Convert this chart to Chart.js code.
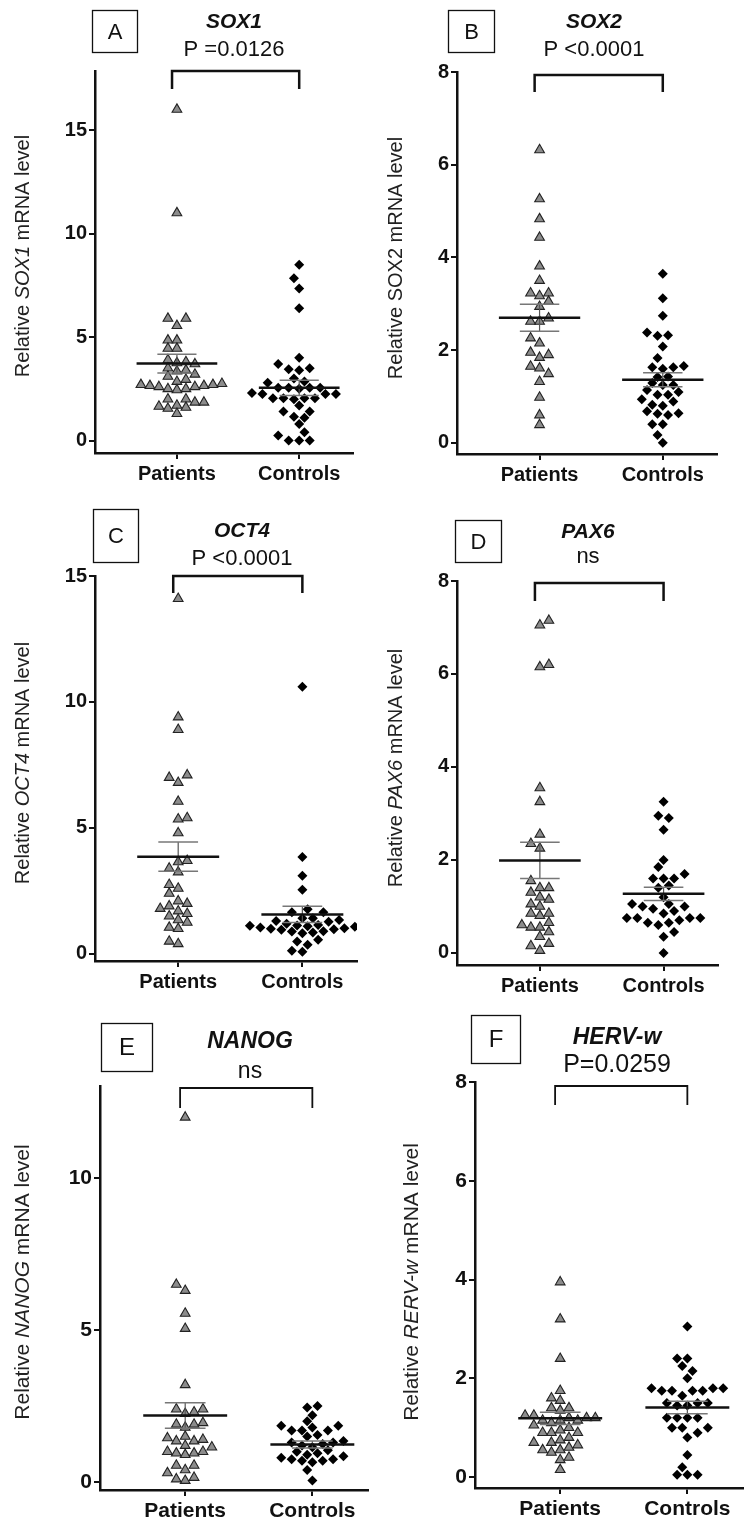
<!DOCTYPE html>
<html>
<head>
<meta charset="utf-8">
<script src="https://cdn.jsdelivr.net/npm/chart.js@4.4.1/dist/chart.umd.min.js"></script>
<style>
  body { margin: 0; background: #fff; }
  #page { position: relative; width: 750px; height: 1521px; }
  #page canvas { position: absolute; }
</style>
</head>
<body>
<div id="page">
  <canvas id="panelA" width="375" height="500" style="left:0;top:0"></canvas>
  <canvas id="panelB" width="375" height="500" style="left:375px;top:0"></canvas>
  <canvas id="panelC" width="375" height="500" style="left:0;top:500px"></canvas>
  <canvas id="panelD" width="375" height="500" style="left:375px;top:500px"></canvas>
  <canvas id="panelE" width="375" height="521" style="left:0;top:1000px"></canvas>
  <canvas id="panelF" width="375" height="521" style="left:375px;top:1000px"></canvas>
</div>
<script>
const FONT = "'Liberation Sans', Arial, sans-serif";
Chart.defaults.font.family = FONT;

const groups = ['Patients', 'Controls'];

// A - SOX1
const sox1Patients = [16.0, 11.0, 5.9, 5.9, 5.55, 4.85, 4.85, 4.45, 4.45, 3.9, 3.8, 3.75, 3.7, 3.5, 3.4, 3.35, 3.2, 3.1, 2.95, 2.85,
  2.75, 2.65, 2.7, 2.5, 2.7, 2.65, 2.45, 2.5, 2.6, 2.6, 2.0, 2.0, 1.85, 1.85, 1.6, 1.55, 1.7, 1.65, 1.3];
const sox1Controls = [8.5, 7.85, 7.35, 6.4, 4.0, 3.7, 3.5, 3.45, 3.4, 3.0, 2.85, 2.8, 2.55, 2.55, 2.55, 2.5, 2.55, 2.25, 2.25,
  2.25, 2.3, 2.05, 2.05, 2.0, 2.05, 2.05, 1.7, 1.4, 1.4, 1.15, 1.1, 0.8, 0.4, 0.25, 0, 0, 0];
const sox1Mean = [3.72, 2.55];
const sox1Sem = [0.45, 0.37];
const sox1Ticks = [0, 5, 10, 15];

// B - SOX2
const sox2Patients = [6.32, 5.26, 4.83, 4.43, 3.81, 3.5, 3.23, 3.23, 3.17, 3.05, 2.94, 2.69, 2.62, 2.62, 2.26, 2.15, 1.95,
  1.9, 1.84, 1.65, 1.61, 1.49, 1.32, 0.98, 0.6, 0.39];
const sox2Controls = [3.65, 3.12, 2.74, 2.32, 2.38, 2.31, 2.08, 1.83, 1.63, 1.63, 1.6, 1.66, 1.43, 1.42, 1.25, 1.25, 1.1,
  1.14, 1.29, 1.04, 0.89, 0.94, 1.04, 0.8, 0.82, 0.6, 0.64, 0.68, 0.63, 0.4, 0.4, 0.17, 0.0];
const sox2Mean = [2.70, 1.36];
const sox2Sem = [0.29, 0.15];
const sox2Ticks = [0, 2, 4, 6, 8];

// C - OCT4
const oct4Patients = [14.1, 9.4, 8.9, 7.1, 7.0, 6.8, 6.05, 5.4, 5.35, 4.8, 3.65, 3.7, 3.25, 3.4, 2.75, 2.6, 2.4, 2.0, 2.1,
  1.9, 1.8, 1.5, 1.6, 1.7, 1.35, 1.25, 1.05, 1.0, 0.4, 0.5];
const oct4Controls = [10.6, 3.85, 3.1, 2.55, 1.77, 1.65, 1.65, 1.42, 1.42, 1.35, 1.31, 1.28, 1.2, 1.12, 1.08, 1.15, 1.02,
  0.98, 1.1, 1.05, 0.96, 1.13, 1.0, 0.89, 0.85, 0.82, 0.9, 0.56, 0.49, 0.36, 0.13, 0.09];
const oct4Mean = [3.86, 1.57];
const oct4Sem = [0.58, 0.32];
const oct4Ticks = [0, 5, 10, 15];

// D - PAX6
const pax6Patients = [7.15, 7.05, 6.2, 6.15, 3.55, 3.25, 2.55, 2.35, 2.25, 1.55, 1.4, 1.4, 1.3, 1.2, 1.15, 1.05, 1.0, 0.85,
  0.85, 0.8, 0.6, 0.65, 0.45, 0.55, 0.55, 0.35, 0.2, 0.15, 0.05];
const pax6Controls = [3.25, 2.9, 2.95, 2.65, 2.0, 1.85, 1.6, 1.6, 1.7, 1.6, 1.45, 1.4, 1.2, 0.95, 1.0, 1.05, 1.05, 1.0, 0.9,
  0.75, 0.75, 0.75, 0.85, 0.75, 0.65, 0.7, 0.6, 0.65, 0.45, 0.35, 0.0];
const pax6Mean = [1.99, 1.27];
const pax6Sem = [0.39, 0.145];
const pax6Ticks = [0, 2, 4, 6, 8];

// E - NANOG
const nanogPatients = [12.0, 6.5, 6.3, 5.55, 5.05, 3.2, 2.3, 2.25, 2.4, 2.4, 1.95, 1.9, 1.9, 1.8, 1.35, 1.35, 1.45, 1.2, 1.4,
  1.5, 1.0, 1.15, 0.95, 0.9, 0.95, 1.0, 0.4, 0.3, 0.55, 0.55, 0.05, 0.1, 0.15];
const nanogControls = [2.5, 2.45, 2.2, 2.0, 1.85, 1.85, 1.8, 1.7, 1.7, 1.7, 1.55, 1.5, 1.35, 1.3, 1.3, 1.25, 1.2, 1.15, 1.05,
  1.0, 0.95, 0.9, 0.85, 0.8, 0.75, 0.75, 0.7, 0.7, 0.65, 0.4, 0.05];
const nanogMean = [2.19, 1.24];
const nanogSem = [0.42, 0.115];
const nanogTicks = [0, 5, 10];

// F - HERV-w
const hervPatients = [3.95, 3.2, 2.4, 1.75, 1.55, 1.6, 1.4, 1.35, 1.4, 1.2, 1.15, 1.15, 1.25, 1.2, 1.2, 1.15, 1.25, 1.05,
  1.0, 1.1, 0.9, 0.9, 0.9, 0.8, 0.95, 0.7, 0.7, 0.6, 0.55, 0.65, 0.75, 0.55, 0.5, 0.4, 0.35, 0.15];
const hervControls = [3.05, 2.4, 2.4, 2.25, 2.15, 2.0, 1.75, 1.8, 1.75, 1.75, 1.75, 1.8, 1.8, 1.65, 1.45, 1.5, 1.5, 1.5,
  1.45, 1.2, 1.2, 1.2, 1.2, 0.9, 1.0, 1.0, 1.0, 0.8, 0.45, 0.2, 0.05, 0.05, 0.05];
const hervMean = [1.19, 1.41];
const hervSem = [0.125, 0.125];
const hervTicks = [0, 2, 4, 6, 8];

const X_MIN = 0.33, X_MAX = 2.44, X_AXIS_H = 28;
const small = { tick: 20, gene: 21, p: 22, letter: 22, axis: 20 };
const large = { tick: 21, gene: 23, p: 23, letter: 24, axis: 21 };

const panels = [
  { id: 'panelA', letter: 'A', gene: 'SOX1', pText: 'P =0.0126', axisGene: 'SOX1', axisItalic: true,
    pat: sox1Patients, ctl: sox1Controls, mean: sox1Mean, sem: sox1Sem, ticks: sox1Ticks, yMin: -0.6, yMax: 17.86,
    area: { left: 95, right: 353, top: 71, bottom: 453 }, box: [92, 10, 45, 42], title: [234, 28, 56],
    bracket: [0, 18, 2.5], yTitle: [23, 256], fs: small },
  { id: 'panelB', letter: 'B', gene: 'SOX2', pText: 'P <0.0001', axisGene: 'SOX2', axisItalic: false,
    pat: sox2Patients, ctl: sox2Controls, mean: sox2Mean, sem: sox2Sem, ticks: sox2Ticks, yMin: -0.24, yMax: 8,
    area: { left: 82, right: 342, top: 72, bottom: 454 }, box: [73, 10, 46, 42], title: [219, 28, 56],
    bracket: [3, 17, 2.5], yTitle: [21, 258], fs: small },
  { id: 'panelC', letter: 'C', gene: 'OCT4', pText: 'P <0.0001', axisGene: 'OCT4', axisItalic: true,
    pat: oct4Patients, ctl: oct4Controls, mean: oct4Mean, sem: oct4Sem, ticks: oct4Ticks, yMin: -0.28, yMax: 15,
    area: { left: 95, right: 357, top: 76, bottom: 461 }, box: [93, 9, 45, 53], title: [242, 37, 65],
    bracket: [0, 17, 2.5], yTitle: [23, 263], fs: small },
  { id: 'panelD', letter: 'D', gene: 'PAX6', pText: 'ns', axisGene: 'PAX6', axisItalic: true,
    pat: pax6Patients, ctl: pax6Controls, mean: pax6Mean, sem: pax6Sem, ticks: pax6Ticks, yMin: -0.26, yMax: 8,
    area: { left: 82, right: 343, top: 81, bottom: 465 }, box: [80, 20, 46, 42], title: [213, 38, 63],
    bracket: [2, 18, 2.5], yTitle: [21, 268], fs: small },
  { id: 'panelE', letter: 'E', gene: 'NANOG', pText: 'ns', axisGene: 'NANOG', axisItalic: true,
    pat: nanogPatients, ctl: nanogControls, mean: nanogMean, sem: nanogSem, ticks: nanogTicks, yMin: -0.26, yMax: 13.03,
    area: { left: 100, right: 372, top: 86, bottom: 490 }, box: [101, 23, 51, 48], title: [250, 48, 78],
    bracket: [2, 20, 1.8], yTitle: [23, 282], fs: large },
  { id: 'panelF', letter: 'F', gene: 'HERV-w', pText: 'P=0.0259', axisGene: 'RERV-w', axisItalic: true,
    pat: hervPatients, ctl: hervControls, mean: hervMean, sem: hervSem, ticks: hervTicks, yMin: -0.22, yMax: 8,
    area: { left: 100, right: 375, top: 82, bottom: 488 }, box: [96, 15, 49, 48], title: [242, 44, 72],
    bracket: [4, 19, 1.8], yTitle: [37, 282], fs: Object.assign({}, large, { p: 25 }) }
];

// Prism-like scatter: spread points sideways so markers don't overlap (pixel offsets)
// diamond=true uses a diamond-shaped (L1) footprint so rows can interleave
function swarmOffsets(values, pxPerY, w, h, diamond) {
  const order = values.map((v, i) => i).sort((a, b) => values[a] - values[b]);
  const placed = [];
  const offsets = new Array(values.length).fill(0);
  let flip = 1;
  order.forEach(i => {
    const y = values[i] * pxPerY;
    const clear = (p, dx) => diamond
      ? Math.abs(p.x - dx) / w + Math.abs(p.y - y) / h >= 1
      : Math.abs(p.x - dx) >= w || Math.abs(p.y - y) >= h;
    const free = dx => placed.every(p => clear(p, dx));
    let dx = 0;
    for (let k = 0; k < 80; k++) {
      const a = k * w / 2 * flip;
      if (free(a)) { dx = a; break; }
      if (free(-a)) { dx = -a; break; }
    }
    flip = -flip;
    placed.push({ x: dx, y });
    offsets[i] = dx;
  });
  return offsets;
}

function segment(x1, y1, x2, y2, color, width) {
  return {
    data: [{ x: x1, y: y1 }, { x: x2, y: y2 }],
    showLine: true, borderColor: color, borderWidth: width, pointRadius: 0, order: 0
  };
}

function drawDecor(chart, p) {
  const ctx = chart.ctx, xs = chart.scales.x, top = chart.chartArea.top;
  ctx.save();
  ctx.fillStyle = '#111';
  ctx.strokeStyle = '#111';

  ctx.lineWidth = 1.3;
  ctx.strokeRect(p.box[0] + 0.5, p.box[1] + 0.5, p.box[2], p.box[3]);
  ctx.font = `${p.fs.letter}px ${FONT}`;
  ctx.textAlign = 'center';
  ctx.textBaseline = 'middle';
  ctx.fillText(p.letter, p.box[0] + p.box[2] / 2 + 0.5, p.box[1] + p.box[3] / 2 + 1.5);

  ctx.textBaseline = 'alphabetic';
  ctx.font = `italic bold ${p.fs.gene}px ${FONT}`;
  ctx.fillText(p.gene, p.title[0], p.title[1]);
  ctx.font = `${p.fs.p}px ${FONT}`;
  ctx.fillText(p.pText, p.title[0], p.title[2]);

  const x1 = xs.getPixelForValue(0.96), x2 = xs.getPixelForValue(2);
  const y1 = top + p.bracket[0], y2 = y1 + p.bracket[1];
  ctx.lineWidth = p.bracket[2];
  ctx.beginPath();
  ctx.moveTo(x1, y2); ctx.lineTo(x1, y1); ctx.lineTo(x2, y1); ctx.lineTo(x2, y2);
  ctx.stroke();

  // y axis title with the gene name in italics
  ctx.translate(p.yTitle[0], p.yTitle[1]);
  ctx.rotate(-Math.PI / 2);
  ctx.textAlign = 'left';
  ctx.textBaseline = 'middle';
  ctx.fillStyle = '#222';
  const parts = [['Relative ', false], [p.axisGene, p.axisItalic], [' mRNA level', false]];
  const fontOf = it => `${it ? 'italic ' : ''}${p.fs.axis}px ${FONT}`;
  let total = 0;
  parts.forEach(([t, it]) => { ctx.font = fontOf(it); total += ctx.measureText(t).width; });
  let x = -total / 2;
  parts.forEach(([t, it]) => { ctx.font = fontOf(it); ctx.fillText(t, x, 0); x += ctx.measureText(t).width; });
  ctx.restore();
}

panels.forEach(p => {
  const canvas = document.getElementById(p.id);
  const W = canvas.width, H = canvas.height, a = p.area;
  const pxPerY = (a.bottom - a.top) / (p.yMax - p.yMin);
  const pxPerX = (a.right - a.left) / (X_MAX - X_MIN);

  const patOff = swarmOffsets(p.pat, pxPerY, 9, 8, false);
  const ctlOff = swarmOffsets(p.ctl, pxPerY, 10.5, 12, true);

  const datasets = [];
  [0, 1].forEach(g => {
    const c = g + 1, m = p.mean[g], s = p.sem[g];
    datasets.push(segment(c - 0.33, m, c + 0.33, m, '#111', 2.5));
    datasets.push(segment(c - 0.16, m + s, c + 0.16, m + s, '#777', 1.5));
    datasets.push(segment(c - 0.16, m - s, c + 0.16, m - s, '#777', 1.5));
    datasets.push(segment(c, m - s, c, m + s, '#555', 1.2));
  });
  datasets.push({
    label: groups[0],
    data: p.pat.map((v, i) => ({ x: 1 + patOff[i] / pxPerX, y: v })),
    pointStyle: 'triangle', pointRadius: 5.6,
    backgroundColor: '#8c8c8c', borderColor: '#222', borderWidth: 1.1, order: 1
  });
  datasets.push({
    label: groups[1],
    data: p.ctl.map((v, i) => ({ x: 2 + ctlOff[i] / pxPerX, y: v })),
    pointStyle: 'rectRot', pointRadius: 5,
    backgroundColor: '#000', borderColor: '#000', borderWidth: 0, order: 1
  });

  const gridOpts = { drawOnChartArea: false, drawTicks: true, tickLength: 6, color: '#111', lineWidth: 2, tickWidth: 2 };
  const borderOpts = { display: true, color: '#111', width: 2.5 };

  new Chart(canvas, {
    type: 'scatter',
    data: { datasets },
    options: {
      responsive: false,
      animation: false,
      events: [],
      layout: { padding: { left: 0, top: a.top, right: W - a.right, bottom: H - a.bottom - X_AXIS_H } },
      plugins: { legend: { display: false }, tooltip: { enabled: false } },
      scales: {
        x: {
          type: 'linear', min: X_MIN, max: X_MAX,
          afterFit: s => { s.height = X_AXIS_H; },
          afterBuildTicks: s => { s.ticks = [{ value: 1 }, { value: 2 }]; },
          grid: gridOpts,
          border: borderOpts,
          ticks: {
            callback: v => groups[Math.round(v) - 1],
            font: { size: p.fs.tick, weight: 'bold' }, color: '#111', padding: 3, maxRotation: 0, autoSkip: false
          }
        },
        y: {
          min: p.yMin, max: p.yMax,
          afterFit: s => { s.width = a.left; },
          afterBuildTicks: s => { s.ticks = p.ticks.map(v => ({ value: v })); },
          grid: gridOpts,
          border: borderOpts,
          ticks: { font: { size: p.fs.tick, weight: 'bold' }, color: '#111', padding: 2, autoSkip: false }
        }
      }
    },
    plugins: [{ id: 'decor', afterDraw: chart => drawDecor(chart, p) }]
  });
});
</script>
</body>
</html>
